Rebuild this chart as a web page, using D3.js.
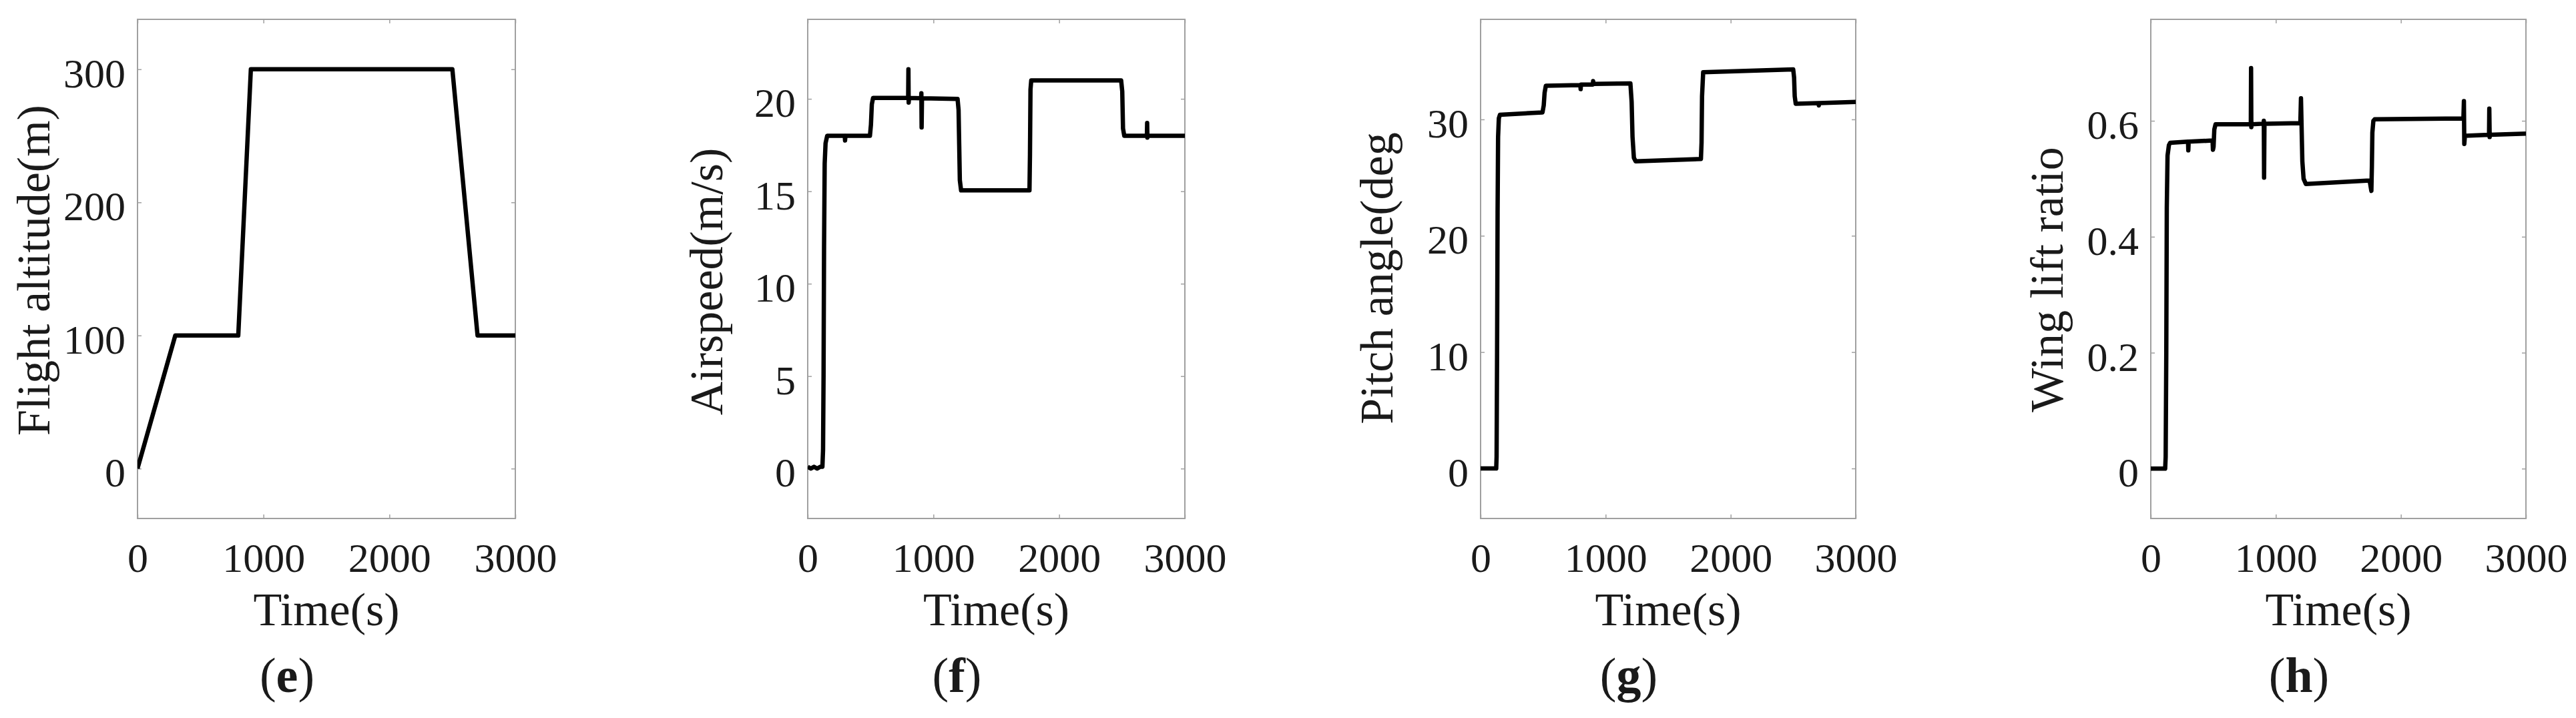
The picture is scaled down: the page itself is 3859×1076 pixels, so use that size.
<!DOCTYPE html>
<html>
<head>
<meta charset="utf-8">
<style>
  body { margin: 0; background: #fff; }
  text { font-family: "Liberation Serif", "Times New Roman", serif; fill: #1a1a1a; }
</style>
<script src="https://d3js.org/d3.v7.min.js"></script>
</head>
<body>
<script>
// ---- data ----
const timeTicks = [0, 1000, 2000, 3000];

// (e) flight altitude, m
const altitude = [[0, 0], [300, 100], [800, 100], [900, 300], [2500, 300], [2700, 100], [3000, 100]];

// (f) airspeed, m/s
const airspeed = [
  [0, 0.1], [25, 0], [50, 0.1], [75, 0], [100, 0.1], [117, 0.1], [122, 1], [126, 5], [130, 12],
  [135, 16.5], [142, 17.6], [155, 18], [295, 18], [297, 17.75], [300, 18], [495, 18], [503, 18.6],
  [510, 19.7], [520, 20.05], [799, 20.05], [801, 21.6], [803, 19.8], [806, 20.05], [902, 20.03],
  [904, 20.3], [906, 18.45], [909, 20.03], [1192, 20.0], [1200, 19.4], [1205, 17.5], [1210, 15.6],
  [1220, 15.05], [1764, 15.05], [1768, 17], [1772, 20.5], [1778, 21], [2493, 21], [2502, 20.4],
  [2508, 18.4], [2518, 18], [2698, 18], [2700, 18.7], [2702, 17.9], [2705, 18], [3000, 18]
];

// (g) pitch angle, deg
const pitch = [
  [0, 0], [125, 0], [128, 1], [132, 10], [136, 22], [140, 28.5], [146, 30.1], [155, 30.4],
  [495, 30.6], [505, 31.2], [512, 32.3], [522, 32.9], [798, 32.95], [800, 32.6], [803, 33.0],
  [898, 33.0], [900, 33.3], [903, 33.05], [1198, 33.1], [1208, 31.5], [1215, 28.5], [1226, 26.7],
  [1240, 26.4], [1762, 26.6], [1767, 28], [1771, 32], [1780, 34.05], [2500, 34.3], [2507, 33.6],
  [2512, 32], [2520, 31.35], [2703, 31.4], [2705, 31.2], [2708, 31.4], [3000, 31.5]
];

// (h) wing lift ratio
const liftRatio = [
  [0, 0], [115, 0], [119, 0.02], [124, 0.2], [128, 0.45], [134, 0.54], [145, 0.558], [155, 0.562],
  [298, 0.564], [300, 0.549], [303, 0.564], [494, 0.566], [497, 0.55], [502, 0.555], [508, 0.585],
  [518, 0.594], [800, 0.594], [802, 0.691], [804, 0.589], [807, 0.594], [902, 0.595], [904, 0.6],
  [906, 0.502], [909, 0.595], [1196, 0.596], [1201, 0.639], [1205, 0.6], [1212, 0.53], [1222, 0.5],
  [1240, 0.491], [1750, 0.497], [1764, 0.479], [1768, 0.52], [1772, 0.58], [1780, 0.6],
  [1790, 0.6025], [2500, 0.604], [2504, 0.634], [2507, 0.56], [2512, 0.574], [2705, 0.576],
  [2707, 0.621], [2710, 0.572], [2713, 0.576], [3000, 0.578]
];

const series = [altitude, airspeed, pitch, liftRatio];
const yTicks = [[0, 100, 200, 300], [0, 5, 10, 15, 20], [0, 10, 20, 30], [0, 0.2, 0.4, 0.6]];
const yDomains = [[-37.5, 337.5], [-2.7, 24.3], [-4.3, 38.6], [-0.086, 0.775]];
const yLabels = ["Flight altitude(m)", "Airspeed(m/s)", "Pitch angle(deg", "Wing lift ratio"];
const xLabel = "Time(s)";
const subLabels = ["e", "f", "g", "h"];

// ---- layout ----
const W = 3859, H = 1076;
const lefts = [206, 1210, 2218, 3222];
const widths = [566, 565, 562, 562];
const plotTop = 29, plotBottom = 777;
const yLabelDx = [-132, -128, -132, -132];
const yLabelCy = [405, 422, 417, 419];
const boxColor = "#a0a0a0";

const svg = d3.select("body").append("svg")
  .attr("width", W)
  .attr("height", H);

svg.append("rect").attr("width", W).attr("height", H).attr("fill", "#fff");

series.forEach(function (data, i) {
  const x0 = lefts[i], w = widths[i];
  const x = d3.scaleLinear().domain([0, 3000]).range([x0, x0 + w]);
  const y = d3.scaleLinear().domain(yDomains[i]).range([plotBottom, plotTop]);

  const g = svg.append("g");

  // clip so the trace stops at the axes box
  g.append("clipPath").attr("id", "clip" + i)
    .append("rect")
    .attr("x", x0).attr("y", plotTop)
    .attr("width", w).attr("height", plotBottom - plotTop);

  const fmt = i === 3 ? d3.format(".1~f") : d3.format("d");

  // left axis with labels, ticks pointing inside
  const yl = g.append("g")
    .attr("transform", "translate(" + x0 + ",0)")
    .call(d3.axisLeft(y).tickValues(yTicks[i]).tickFormat(d => d === 0 ? "0" : fmt(d))
      .tickSizeInner(-6).tickSizeOuter(0).tickPadding(18));
  yl.selectAll("text").attr("dy", "0.43em");

  // right axis ticks only
  const yr = g.append("g")
    .attr("transform", "translate(" + (x0 + w) + ",0)")
    .call(d3.axisRight(y).tickValues(yTicks[i]).tickFormat("").tickSizeInner(-6).tickSizeOuter(0));

  // bottom axis with labels
  const xb = g.append("g")
    .attr("transform", "translate(0," + plotBottom + ")")
    .call(d3.axisBottom(x).tickValues(timeTicks).tickFormat(d3.format("d"))
      .tickSizeInner(-6).tickSizeOuter(0).tickPadding(36));
  xb.selectAll("text").attr("dy", "0.71em");

  // top axis ticks only
  const xt = g.append("g")
    .attr("transform", "translate(0," + plotTop + ")")
    .call(d3.axisTop(x).tickValues(timeTicks).tickFormat("").tickSizeInner(-6).tickSizeOuter(0));

  [yl, yr, xb, xt].forEach(function (a) {
    a.select(".domain").remove();
    a.selectAll("line").attr("stroke", boxColor).attr("stroke-width", 1.5);
    a.selectAll("text").style("font-size", "62px").attr("fill", "#1a1a1a")
      .style("font-family", "'Liberation Serif', 'Times New Roman', serif");
  });

  // axes box
  g.append("rect")
    .attr("x", x0).attr("y", plotTop)
    .attr("width", w).attr("height", plotBottom - plotTop)
    .attr("fill", "none")
    .attr("stroke", boxColor)
    .attr("stroke-width", 2);

  // trace
  const line = d3.line().x(d => x(d[0])).y(d => y(d[1]));
  g.append("path")
    .datum(data)
    .attr("clip-path", "url(#clip" + i + ")")
    .attr("d", line)
    .attr("fill", "none")
    .attr("stroke", "#000")
    .attr("stroke-width", 6.5)
    .attr("stroke-linejoin", "round");

  // y label
  const lx = x0 + yLabelDx[i], ly = yLabelCy[i];
  g.append("text")
    .attr("transform", "translate(" + lx + "," + ly + ") rotate(-90)")
    .attr("text-anchor", "middle")
    .style("font-size", "70px")
    .text(yLabels[i]);

  // x label
  g.append("text")
    .attr("x", x0 + w / 2)
    .attr("y", 937)
    .attr("text-anchor", "middle")
    .style("font-size", "70px")
    .text(xLabel);

  // sub-figure label, bold letter
  const sub = g.append("text")
    .attr("x", x0 + w / 2 - 59)
    .attr("y", 1037)
    .attr("text-anchor", "middle")
    .style("font-size", "74px");
  sub.append("tspan").text("(");
  sub.append("tspan").style("font-weight", "bold").text(subLabels[i]);
  sub.append("tspan").text(")");
});
</script>
</body>
</html>
